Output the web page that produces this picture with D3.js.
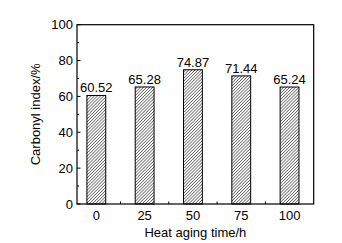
<!DOCTYPE html>
<html><head><meta charset="utf-8">
<script src="https://cdn.jsdelivr.net/npm/d3@7"></script>
<style>body{margin:0;background:#fff}svg{display:block}text{font-family:Arial,"Liberation Sans",sans-serif}</style>
</head><body><svg id="c" width="342" height="243"></svg>
<script>
const categories = ["0","25","50","75","100"];
const values = [60.52, 65.28, 74.87, 71.44, 65.24];
const yTicks = [0,20,40,60,80,100];
const yMinor = [10,30,50,70,90];

const svg = d3.select("#c");
const L=77, R=313.7, T=24.7, B=204;
const x = d3.scaleLinear().domain([-0.4,4.5]).range([L,R]);
const y = d3.scaleLinear().domain([0,100]).range([B,T]);
const bw = x(0.39)-x(0);

const defs = svg.append("defs");
const pw = 2.2;
const pat = defs.append("pattern").attr("id","hatch").attr("patternUnits","userSpaceOnUse")
  .attr("width",pw).attr("height",pw).attr("patternTransform","rotate(45)");
pat.append("rect").attr("width",pw).attr("height",pw).attr("fill","#fff");
pat.append("line").attr("x1",0).attr("y1",0).attr("x2",0).attr("y2",pw).attr("stroke","#222").attr("stroke-width",1.1);

svg.selectAll("rect.bar").data(values).join("rect").attr("class","bar")
  .attr("x",(d,i)=>x(i)-bw/2).attr("y",d=>y(d)).attr("width",bw).attr("height",d=>B-y(d))
  .attr("fill","url(#hatch)").attr("stroke","#000").attr("stroke-width",1);

svg.selectAll("text.val").data(values).join("text").attr("class","val")
  .attr("x",(d,i)=>x(i)).attr("y",d=>y(d)-3).attr("text-anchor","middle")
  .attr("font-size",13).text(d=>d.toFixed(2));

// frame
svg.append("rect").attr("x",L).attr("y",T).attr("width",R-L).attr("height",B-T)
  .attr("fill","none").attr("stroke","#000").attr("stroke-width",1.2);

// y axis ticks
const g = svg.append("g");
g.selectAll("line.ymaj").data(yTicks).join("line").attr("x1",L).attr("x2",L+3.5)
  .attr("y1",d=>y(d)).attr("y2",d=>y(d)).attr("stroke","#000");
g.selectAll("line.ymin").data(yMinor).join("line").attr("class","ymin").attr("x1",L).attr("x2",L+2)
  .attr("y1",d=>y(d)).attr("y2",d=>y(d)).attr("stroke","#000");
g.selectAll("text.yl").data(yTicks).join("text").attr("class","yl")
  .attr("x",L-4).attr("y",d=>y(d)+4.5).attr("text-anchor","end").attr("font-size",13).text(d=>d);

// x ticks
g.selectAll("line.xmin").data([0.5,1.5,2.5,3.5]).join("line").attr("class","xmin")
  .attr("x1",d=>x(d)).attr("x2",d=>x(d)).attr("y1",B).attr("y2",B-2.5).attr("stroke","#000");
g.selectAll("text.xl").data(categories).join("text").attr("class","xl")
  .attr("x",(d,i)=>x(i)).attr("y",220).attr("text-anchor","middle").attr("font-size",13).text(d=>d);

svg.append("text").attr("x",(L+R)/2).attr("y",237).attr("text-anchor","middle")
  .attr("font-size",13).text("Heat aging time/h");
svg.append("text").attr("transform",`translate(40,${(T+B)/2}) rotate(-90)`).attr("text-anchor","middle")
  .attr("font-size",13).text("Carbonyl index/%");
</script></body></html>
